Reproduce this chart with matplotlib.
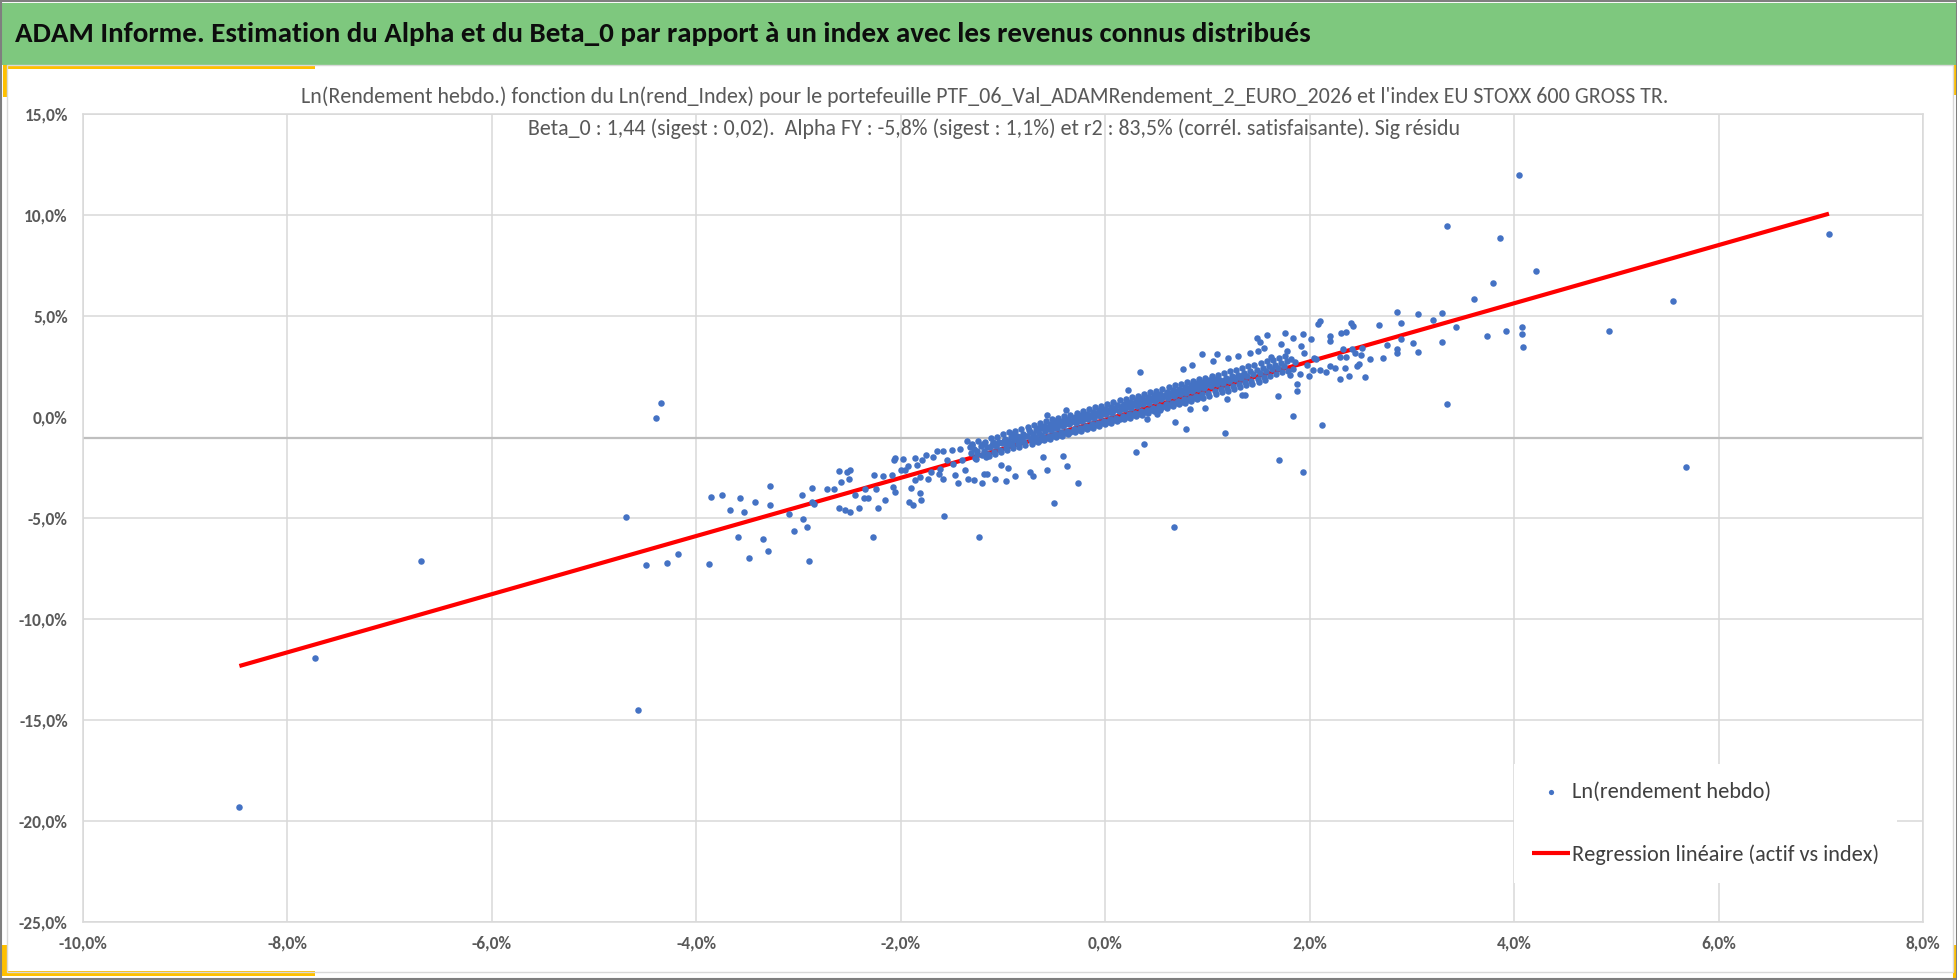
import numpy as np
import matplotlib
matplotlib.use("Agg")
import matplotlib.pyplot as plt
from matplotlib import font_manager
from matplotlib.patches import Rectangle

# --- data (weekly log returns, in %) ---
title = "ADAM Informe. Estimation du Alpha et du Beta_0 par rapport à un index avec les revenus connus distribués"
sub1 = ("Ln(Rendement hebdo.) fonction du Ln(rend_Index) pour le portefeuille "
        "PTF_06_Val_ADAMRendement_2_EURO_2026 et l'index EU STOXX 600 GROSS TR.")
sub2 = ("Beta_0 : 1,44 (sigest : 0,02).  Alpha FY : -5,8% (sigest : 1,1%) et r2 : 83,5% "
        "(corrél. satisfaisante). Sig résidu")
label_pts = "Ln(rendement hebdo)"
label_reg = "Regression linéaire (actif vs index)"

beta = 1.44
intercept = -0.13
axis_cross = -1.04

x_ticks = [-10, -8, -6, -4, -2, 0, 2, 4, 6, 8]
y_ticks = [-25, -20, -15, -10, -5, 0, 5, 10, 15]

far_pts = [(-8.47, -19.30), (-7.73, -11.95), (-6.69, -7.15), (-4.57, -14.50),
           (-4.39, -0.05), (-4.35, 0.71), (4.05, 11.96), (7.08, 9.04),
           (5.55, 5.74), (4.93, 4.24), (5.68, -2.49)]

left_pts = [(-4.69, -4.97), (-4.49, -7.33), (-4.29, -7.21), (-4.18, -6.78), (-3.88, -7.28),
            (-3.86, -3.96), (-3.75, -3.84), (-3.67, -4.59), (-3.57, -4.03), (-3.53, -4.72),
            (-3.43, -4.22), (-3.28, -3.40), (-3.28, -4.34), (-3.59, -5.96), (-3.48, -6.96),
            (-3.35, -6.02), (-3.30, -6.65), (-3.04, -5.66), (-2.92, -5.45), (-2.90, -7.13),
            (-2.27, -5.94), (-1.23, -5.94)]

mid_pts = [(-3.09, -4.82), (-2.97, -3.88), (-2.96, -5.07), (-2.87, -3.50), (-2.87, -4.21),
           (-2.85, -4.32), (-2.72, -3.55), (-2.65, -3.58), (-2.60, -2.67), (-2.60, -4.49),
           (-2.58, -3.20), (-2.55, -4.62), (-2.53, -2.74), (-2.51, -3.05), (-2.50, -2.61),
           (-2.50, -4.70), (-2.45, -3.88), (-2.41, -4.49), (-2.36, -4.00), (-2.35, -3.55),
           (-2.32, -4.00), (-2.26, -2.86), (-2.24, -3.55), (-2.22, -4.49), (-2.17, -2.94),
           (-2.15, -4.13), (-2.09, -2.89), (-2.08, -3.47), (-2.07, -2.15), (-2.06, -3.71),
           (-2.06, -2.01), (-2.00, -2.61), (-1.98, -2.08), (-1.96, -2.64), (-1.93, -2.44),
           (-1.92, -4.21), (-1.90, -3.51), (-1.88, -4.37), (-1.86, -3.14), (-1.86, -2.01),
           (-1.84, -2.39), (-1.81, -3.76), (-1.80, -4.13), (-1.81, -2.97), (-1.79, -2.15),
           (-1.75, -1.90), (-1.73, -3.05), (-1.70, -2.72), (-1.68, -1.98), (-1.65, -1.68),
           (-1.63, -2.81), (-1.62, -2.56), (-1.59, -3.07), (-1.59, -1.68), (-1.58, -4.92),
           (-1.55, -2.15), (-1.50, -1.62), (-1.49, -2.34), (-1.47, -2.89), (-1.44, -3.27),
           (-1.42, -1.57), (-1.40, -2.15), (-1.37, -2.64), (-1.35, -1.21), (-1.34, -3.05),
           (-1.30, -1.40), (-1.28, -3.10), (-1.25, -1.82), (-1.21, -3.25), (-1.19, -2.84),
           (-1.16, -2.81), (-1.08, -3.05), (-1.02, -2.39), (-0.97, -3.17), (-0.95, -2.51),
           (-0.88, -2.94), (-0.74, -2.74), (-0.71, -2.94), (-0.61, -1.98), (-0.57, -2.64),
           (-0.50, -4.26), (-0.41, -1.95), (-0.37, -2.44), (-0.27, -3.25), (-0.57, 0.08),
           (-0.49, -0.20), (-0.38, 0.36)]

right_pts = [(2.85, 5.21), (3.06, 5.08), (3.29, 5.13), (3.21, 4.79), (3.43, 4.46), (3.73, 4.01),
             (2.68, 4.54), (2.89, 4.64), (2.89, 3.84), (3.01, 3.65), (3.06, 3.22), (3.29, 3.71),
             (2.85, 3.35), (2.85, 3.15), (2.76, 3.58), (2.72, 2.90), (2.59, 2.85), (2.51, 3.43),
             (2.50, 3.07), (2.48, 2.61), (2.46, 2.52), (2.41, 3.35), (2.44, 3.18), (2.40, 4.64),
             (2.42, 4.50), (2.36, 4.22), (2.31, 4.14), (2.33, 3.38), (2.30, 2.99), (2.36, 2.95),
             (2.35, 2.44), (2.38, 2.03), (2.30, 1.90), (2.54, 1.96), (2.25, 2.44), (2.20, 2.52),
             (2.20, 4.01), (2.20, 3.76), (2.16, 2.23), (2.10, 2.33), (2.08, 4.59), (2.10, 4.75),
             (2.03, 2.31), (2.01, 3.84), (2.04, 2.94), (2.06, 2.85), (3.34, 0.66), (2.12, -0.40),
             (1.93, -2.71), (1.70, -2.15), (1.84, 0.05), (1.69, 1.04), (1.88, 1.62), (1.88, 1.29),
             (1.93, 4.09), (1.84, 3.93), (1.76, 4.14), (1.58, 4.04), (1.48, 3.93), (1.51, 3.71),
             (1.72, 3.60), (1.78, 3.27), (1.49, 3.27), (1.30, 3.02), (1.09, 3.10), (0.95, 3.10),
             (0.76, 2.36), (0.34, 2.23), (1.17, -0.78), (0.79, -0.58), (0.67, -5.43), (0.38, -1.34),
             (0.30, -1.72), (0.22, 1.34), (0.68, -0.23), (1.34, 1.09), (1.37, 1.09), (1.91, 2.11),
             (1.94, 3.18), (1.92, 3.51), (1.86, 2.72), (1.97, 2.55), (1.99, 2.05), (0.85, 2.55),
             (1.05, 2.75), (1.20, 2.90), (1.42, 3.15), (1.55, 3.40), (1.62, 2.95), (0.98, 0.46),
             (1.19, 0.87), (0.83, 0.38), (0.51, 0.13), (0.41, -0.12),
             (3.34, 9.47), (3.86, 8.84), (4.21, 7.23), (3.79, 6.62), (3.61, 5.86),
             (4.08, 4.44), (4.08, 4.13), (3.92, 4.24), (4.09, 3.48)]

core_pts = [
    (-1.30, -1.35), (-1.28, -1.57), (-1.31, -1.78), (-1.27, -2.02), (-1.32, -1.48),
    (-1.24, -1.20), (-1.22, -1.45), (-1.25, -1.66), (-1.21, -1.90), (-1.26, -2.10),
    (-1.18, -1.22), (-1.16, -1.47), (-1.19, -1.68), (-1.15, -1.85), (-1.20, -1.33), (-1.17, -1.98),
    (-1.12, -1.02), (-1.10, -1.26), (-1.13, -1.50), (-1.09, -1.73), (-1.14, -1.92), (-1.11, -1.38),
    (-1.06, -1.00), (-1.04, -1.22), (-1.07, -1.45), (-1.03, -1.62), (-1.08, -1.85), (-1.05, -1.30),
    (-1.00, -0.86), (-0.98, -1.10), (-1.01, -1.30), (-0.97, -1.55), (-1.02, -1.75), (-0.99, -1.18), (-0.96, -1.40),
    (-0.94, -0.72), (-0.92, -0.98), (-0.95, -1.18), (-0.91, -1.40), (-0.96, -1.62), (-0.93, -1.30), (-0.90, -0.85),
    (-0.88, -0.70), (-0.86, -0.93), (-0.89, -1.12), (-0.85, -1.35), (-0.90, -1.55), (-0.87, -1.02), (-0.84, -1.25),
    (-0.82, -0.58), (-0.80, -0.82), (-0.83, -1.01), (-0.79, -1.24), (-0.84, -1.48), (-0.81, -1.12), (-0.78, -0.95),
    (-0.76, -0.50), (-0.74, -0.73), (-0.77, -0.93), (-0.73, -1.16), (-0.78, -1.40), (-0.75, -0.62), (-0.72, -1.05),
    (-0.70, -0.40), (-0.68, -0.66), (-0.71, -0.86), (-0.67, -1.08), (-0.72, -1.32), (-0.69, -0.98), (-0.66, -0.55), (-0.70, -1.20),
    (-0.64, -0.30), (-0.62, -0.56), (-0.65, -0.78), (-0.61, -1.00), (-0.66, -1.22), (-0.63, -0.90), (-0.60, -0.45), (-0.64, -1.12),
    (-0.58, -0.22), (-0.56, -0.48), (-0.59, -0.70), (-0.55, -0.92), (-0.60, -1.15), (-0.57, -0.60), (-0.54, -0.35), (-0.58, -1.03),
    (-0.52, -0.12), (-0.50, -0.40), (-0.53, -0.62), (-0.49, -0.84), (-0.54, -1.08), (-0.51, -0.52), (-0.48, -0.25), (-0.52, -0.95),
    (-0.46, -0.05), (-0.44, -0.30), (-0.47, -0.53), (-0.43, -0.76), (-0.48, -1.00), (-0.45, -0.42), (-0.42, -0.18), (-0.46, -0.88),
    (-0.40, 0.05), (-0.38, -0.22), (-0.41, -0.45), (-0.37, -0.68), (-0.42, -0.92), (-0.39, -0.33), (-0.36, -0.10), (-0.40, -0.80),
    (-0.34, 0.12), (-0.32, -0.14), (-0.35, -0.37), (-0.31, -0.60), (-0.36, -0.84), (-0.33, -0.25), (-0.30, 0.00), (-0.34, -0.72),
    (-0.28, 0.22), (-0.26, -0.05), (-0.29, -0.29), (-0.25, -0.52), (-0.30, -0.76), (-0.27, -0.18), (-0.24, 0.08), (-0.28, -0.64),
    (-0.22, 0.30), (-0.20, 0.04), (-0.23, -0.20), (-0.19, -0.44), (-0.24, -0.68), (-0.21, -0.08), (-0.18, 0.16), (-0.22, -0.56),
    (-0.16, 0.40), (-0.14, 0.12), (-0.17, -0.12), (-0.13, -0.36), (-0.18, -0.60), (-0.15, 0.00), (-0.12, 0.25), (-0.16, -0.48),
    (-0.10, 0.48), (-0.08, 0.20), (-0.11, -0.04), (-0.07, -0.28), (-0.12, -0.52), (-0.09, 0.08), (-0.06, 0.33), (-0.10, -0.40),
    (-0.04, 0.56), (-0.02, 0.28), (-0.05, 0.04), (-0.01, -0.20), (-0.06, -0.45), (-0.03, 0.16), (0.00, 0.42), (-0.04, -0.32),
    (0.02, 0.65), (0.04, 0.37), (0.01, 0.13), (0.05, -0.12), (0.00, -0.36), (0.03, 0.25), (0.06, 0.50), (0.02, -0.24),
    (0.08, 0.74), (0.10, 0.45), (0.07, 0.21), (0.11, -0.04), (0.06, -0.28), (0.09, 0.33), (0.12, 0.58), (0.08, -0.15),
    (0.14, 0.82), (0.16, 0.53), (0.13, 0.29), (0.17, 0.04), (0.12, -0.20), (0.15, 0.41), (0.18, 0.66), (0.14, -0.08),
    (0.20, 0.90), (0.22, 0.62), (0.19, 0.38), (0.23, 0.13), (0.18, -0.12), (0.21, 0.50), (0.24, 0.75), (0.20, 0.00),
    (0.26, 0.98), (0.28, 0.70), (0.25, 0.46), (0.29, 0.21), (0.24, -0.04), (0.27, 0.58), (0.30, 0.84), (0.26, 0.08),
    (0.32, 1.06), (0.34, 0.78), (0.31, 0.54), (0.35, 0.29), (0.30, 0.04), (0.33, 0.66), (0.36, 0.92), (0.32, 0.17),
    (0.38, 1.15), (0.40, 0.86), (0.37, 0.62), (0.41, 0.37), (0.36, 0.12), (0.39, 0.74), (0.42, 1.00), (0.38, 0.25),
    (0.44, 1.23), (0.46, 0.95), (0.43, 0.71), (0.47, 0.46), (0.42, 0.21), (0.45, 0.83), (0.48, 1.08), (0.44, 0.33),
    (0.50, 1.31), (0.52, 1.03), (0.49, 0.79), (0.53, 0.54), (0.48, 0.29), (0.51, 0.91), (0.54, 1.16), (0.50, 0.42),
    (0.56, 1.40), (0.58, 1.11), (0.55, 0.87), (0.59, 0.62), (0.54, 0.37), (0.57, 0.99), (0.60, 1.25), (0.56, 0.50),
    (0.62, 1.48), (0.64, 1.20), (0.61, 0.96), (0.65, 0.71), (0.60, 0.46), (0.63, 1.08), (0.66, 1.33), (0.62, 0.58),
    (0.68, 1.56), (0.70, 1.28), (0.67, 1.04), (0.71, 0.79), (0.66, 0.54), (0.69, 1.16), (0.72, 1.41), (0.68, 0.67),
    (0.74, 1.64), (0.76, 1.36), (0.73, 1.12), (0.77, 0.87), (0.72, 0.62), (0.75, 1.24), (0.78, 1.50), (0.74, 0.75),
    (0.80, 1.72), (0.82, 1.44), (0.79, 1.20), (0.83, 0.95), (0.78, 0.70), (0.81, 1.32), (0.84, 1.58), (0.80, 0.83),
    (0.86, 1.80), (0.88, 1.53), (0.85, 1.29), (0.89, 1.04), (0.84, 0.80), (0.87, 1.41), (0.90, 1.66), (0.86, 0.92),
    (0.92, 1.88), (0.94, 1.61), (0.91, 1.37), (0.95, 1.12), (0.90, 0.88), (0.93, 1.49), (0.96, 1.74), (0.92, 1.00),
    (0.98, 1.95), (1.00, 1.68), (0.97, 1.45), (1.01, 1.20), (0.96, 0.96), (0.99, 1.57), (1.02, 1.82),
    (1.04, 2.02), (1.06, 1.77), (1.03, 1.54), (1.07, 1.30), (1.02, 1.06), (1.05, 1.66), (1.08, 1.90),
    (1.10, 2.10), (1.12, 1.85), (1.09, 1.62), (1.13, 1.38), (1.08, 1.14), (1.11, 1.74),
    (1.16, 2.18), (1.18, 1.93), (1.15, 1.70), (1.19, 1.46), (1.14, 1.22), (1.17, 1.82),
    (1.22, 2.26), (1.24, 2.01), (1.21, 1.78), (1.25, 1.54), (1.20, 1.30), (1.23, 1.90),
    (1.28, 2.35), (1.30, 2.10), (1.27, 1.87), (1.31, 1.63), (1.26, 1.40), (1.29, 1.99),
    (1.34, 2.43), (1.36, 2.18), (1.33, 1.95), (1.37, 1.71), (1.32, 1.48), (1.35, 2.07),
    (1.40, 2.51), (1.42, 2.26), (1.39, 2.03), (1.43, 1.79), (1.38, 1.56),
    (1.46, 2.59), (1.48, 2.34), (1.45, 2.11), (1.49, 1.87), (1.44, 1.64),
    (1.52, 2.68), (1.54, 2.43), (1.51, 2.20), (1.55, 1.96), (1.50, 1.73),
    (1.58, 2.76), (1.60, 2.51), (1.57, 2.28), (1.61, 2.04), (1.56, 1.81),
    (1.64, 2.84), (1.66, 2.59), (1.63, 2.36), (1.67, 2.12),
    (1.70, 2.92), (1.72, 2.68), (1.69, 2.45), (1.73, 2.21),
    (1.76, 3.00), (1.78, 2.76), (1.75, 2.53), (1.79, 2.29),
    (1.82, 2.85), (1.84, 2.40), (1.81, 2.10)]

# --- fonts ---
installed = {f.name for f in font_manager.fontManager.ttflist}
base_font = next(f for f in ["Carlito", "Lato", "DejaVu Sans"] if f in installed)
plt.rcParams["font.family"] = [base_font, "DejaVu Sans"]

W, H = 1958, 980
fig = plt.figure(figsize=(W / 100, H / 100), dpi=100)
fig.patch.set_facecolor("white")


def px_rect(x0, y0, x1, y1, color, **kw):
    # rectangle given in pixels from the top-left corner
    fig.patches.append(Rectangle((x0 / W, 1 - y1 / H), (x1 - x0) / W, (y1 - y0) / H,
                                 transform=fig.transFigure, facecolor=color,
                                 edgecolor="none", **kw))


# frame, header band and the yellow corner marks
px_rect(2, 3, 1956, 65, "#7EC87E")
px_rect(7, 65, 315, 69, "#FFC000")
px_rect(3, 65, 7, 97, "#FFC000")
px_rect(0, 971, 315, 976, "#FFC000")
px_rect(2, 945, 7, 976, "#FFC000")
px_rect(1953, 65, 1957, 95, "#FFC000")
px_rect(1953, 945, 1957, 980, "#FFC000")
fig.patches.append(Rectangle((7 / W, 1 - 972 / H), (1953 - 7) / W, (972 - 65) / H,
                             transform=fig.transFigure, fill=False,
                             edgecolor="#D9D9D9", lw=1.0))
fig.patches.append(Rectangle((0.0005, 0.001), 0.999, 0.998, transform=fig.transFigure,
                             fill=False, edgecolor="#7F7F7F", lw=1.5))

renderer = fig.canvas.get_renderer()


def fit_width(txt, target_px):
    w = txt.get_window_extent(renderer=renderer).width
    txt.set_fontsize(txt.get_fontsize() * target_px / w)


t = fig.text(15 / W, 1 - 34 / H, title, ha="left", va="center", fontsize=18,
             fontweight="bold", color="#0D0D0D")
fit_width(t, 1300)
s1 = fig.text(985 / W, 1 - 97 / H, sub1, ha="center", va="center", fontsize=13, color="#595959")
fit_width(s1, 1367)
s2 = fig.text(994 / W, 1 - 129 / H, sub2, ha="center", va="center",
              fontsize=s1.get_fontsize(), color="#595959")

ax = fig.add_axes([83 / W, 1 - 922 / H, (1923 - 83) / W, (922 - 114) / H])
ax.set_facecolor("none")

pts = np.array(far_pts + left_pts + mid_pts + right_pts + core_pts)
idx_ret = pts[:, 0]
ptf_ret = pts[:, 1]

# regression line over the index range
line_x = np.array([idx_ret.min(), idx_ret.max()])
line_y = beta * line_x + intercept
ax.plot(line_x, line_y, color="#FF0000", lw=3.0, solid_capstyle="butt", zorder=3,
        label=label_reg)
ax.scatter(idx_ret, ptf_ret, s=22, color="#4472C4", linewidths=0, zorder=4,
           label=label_pts)

ax.axhline(axis_cross, color="#BFBFBF", lw=1.6, zorder=2)

ax.set_xlim(x_ticks[0], x_ticks[-1])
ax.set_ylim(y_ticks[0], y_ticks[-1])
ax.set_xticks(x_ticks)
ax.set_yticks(y_ticks)
ax.set_xticklabels([f"{v:.1f}%".replace(".", ",") for v in x_ticks])
ax.set_yticklabels([f"{v:.1f}%".replace(".", ",") for v in y_ticks])
ax.grid(True, color="#D9D9D9", lw=1.1, zorder=0)
ax.set_axisbelow(True)
for tick, gl in zip(y_ticks, ax.yaxis.get_gridlines()):
    if tick == 0:
        gl.set_visible(False)
for sp in ax.spines.values():
    sp.set_color("#D9D9D9")
    sp.set_linewidth(1.1)
ax.tick_params(length=0, labelsize=12.5, labelcolor="#595959")
ax.tick_params(axis="y", pad=11)
ax.tick_params(axis="x", pad=10)
for lab in ax.get_xticklabels() + ax.get_yticklabels():
    lab.set_fontweight("bold")

h, l = ax.get_legend_handles_labels()
leg = ax.legend(h[::-1], l[::-1], loc="lower right", bbox_to_anchor=(0.992, 0.035),
                fontsize=16, frameon=True, facecolor="white", edgecolor="none",
                framealpha=1, fancybox=False, borderpad=0.8, labelspacing=1.9,
                handlelength=1.7, handletextpad=0.1, markerscale=0.8)
for txt in leg.get_texts():
    txt.set_color("#404040")

fig.savefig("out.png", dpi=100)
